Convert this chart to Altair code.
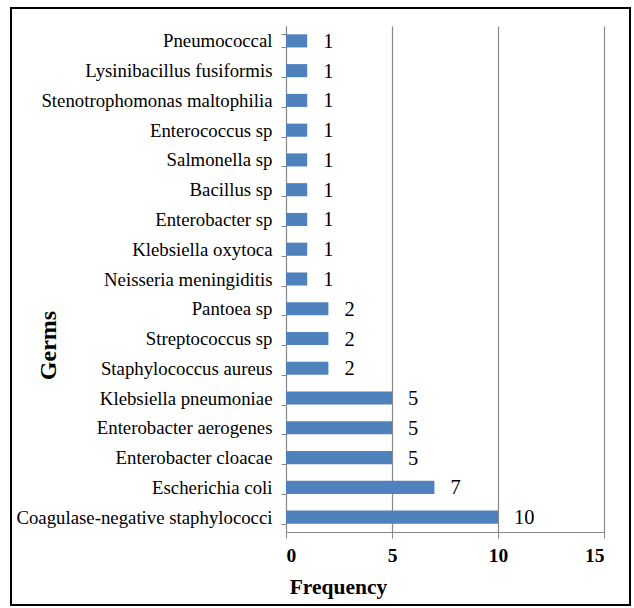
import altair as alt
import pandas as pd

germs = [
    "Pneumococcal", "Lysinibacillus fusiformis", "Stenotrophomonas maltophilia",
    "Enterococcus sp", "Salmonella sp", "Bacillus sp", "Enterobacter sp",
    "Klebsiella oxytoca", "Neisseria meningiditis", "Pantoea sp",
    "Streptococcus sp", "Staphylococcus aureus", "Klebsiella pneumoniae",
    "Enterobacter aerogenes", "Enterobacter cloacae", "Escherichia coli",
    "Coagulase-negative staphylococci",
]
freq = [1, 1, 1, 1, 1, 1, 1, 1, 1, 2, 2, 2, 5, 5, 5, 7, 10]

df = pd.DataFrame({"germ": germs, "freq": freq})
FONT = "Liberation Serif"

y_enc = alt.Y("germ:N", sort=germs, title="Germs",
              scale=alt.Scale(paddingInner=0.56, paddingOuter=0.28),
              axis=alt.Axis(tickBand="extent", labelFontSize=18.8,
                            titleFontSize=24, tickSize=5,
                            labelPadding=9, labelLimit=400,
                            titleX=-238, titleY=319, titleAngle=270,
                            titleAlign="center", titleBaseline="middle"))

x_enc = alt.X("freq:Q", title="Frequency",
              scale=alt.Scale(domain=[0, 15], nice=False),
              axis=alt.Axis(values=[0, 5, 10, 15], grid=True,
                            tickSize=6, labelFontSize=19.5,
                            labelFontWeight="bold", labelPadding=8,
                            titleFontSize=21.5, titleX=52, titleY=55,
                            titleAlign="center", titleBaseline="middle"))

bars = alt.Chart(df).mark_bar(color="#4F81BD").encode(x=x_enc, y=y_enc)
labels = alt.Chart(df).mark_text(align="left", baseline="middle", dx=16, dy=1,
                                 fontSize=20.5, font=FONT, color="black").encode(
    x=x_enc, y=y_enc, text="freq:Q")

frame = alt.Chart(df).mark_rect(fill=None, stroke="black", strokeWidth=1.2, clip=False).encode(
    x=alt.value(-275), x2=alt.value(344), y=alt.value(-18), y2=alt.value(579))

chart = alt.layer(bars, labels, frame).properties(
    width=318, height=506,
    autosize=alt.AutoSizeParams(type="none"),
    padding={"left": 286, "top": 26, "right": 30, "bottom": 76},
    background="white",
).configure_view(stroke=None).configure_axis(
    labelFont=FONT, titleFont=FONT, labelColor="black", titleColor="black",
    titleFontWeight="bold", domainColor="#888888", tickColor="#888888",
    gridColor="#888888", gridWidth=1.2,
)

chart.save("out.html", embed_options={"renderer": "svg", "actions": False})
